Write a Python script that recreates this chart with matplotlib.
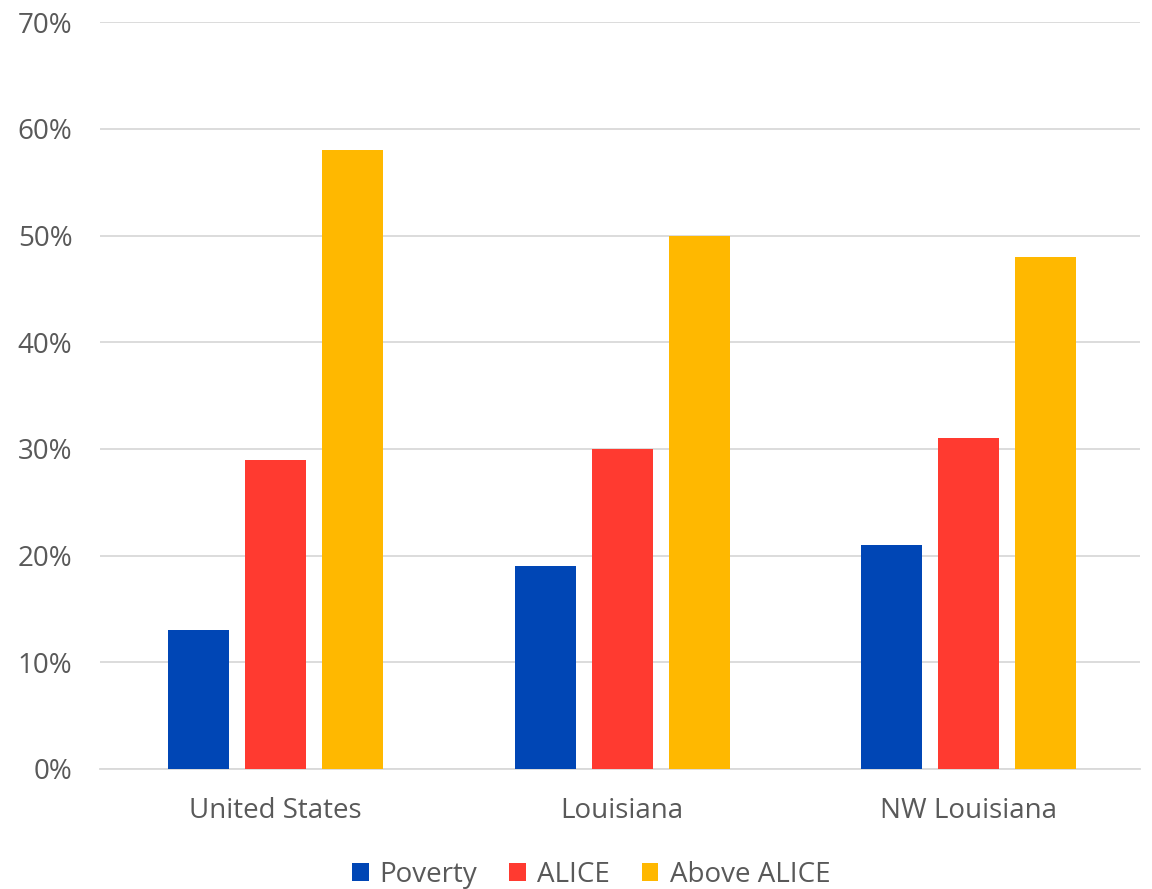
import matplotlib.pyplot as plt
import numpy as np

categories = ["United States", "Louisiana", "NW Louisiana"]
series_names = ["Poverty", "ALICE", "Above ALICE"]
poverty = [13, 19, 21]
alice = [29, 30, 31]
above_alice = [58, 50, 48]
colors = ["#0046B5", "#FF3A30", "#FFB800"]

plt.rcParams['font.family'] = ['Open Sans', 'DejaVu Sans']
text_color = "#595959"

fig = plt.figure(figsize=(11.52, 8.89), dpi=100)
ax = fig.add_axes([0.087, 0.135, 0.903, 0.84])

x = np.arange(len(categories))
width = 0.176
step = 0.222
for i, (vals, name, col) in enumerate(zip([poverty, alice, above_alice], series_names, colors)):
    ax.bar(x + (i - 1) * step, vals, width, color=col, label=name, zorder=3)

ax.set_xlim(-0.505, 2.495)
ax.set_ylim(0, 70)
ax.set_yticks(range(0, 71, 10))
ax.set_yticklabels([f"{v}%" for v in range(0, 71, 10)])
ax.set_xticks(x)
ax.set_xticklabels(categories)
ax.yaxis.grid(True, color="#D9D9D9", linewidth=1.3, zorder=0)
ax.tick_params(axis='both', length=0, labelsize=20, colors=text_color)
ax.tick_params(axis='y', pad=20)
ax.tick_params(axis='x', pad=20)
for s in ["top", "right", "left"]:
    ax.spines[s].set_visible(False)
ax.spines["bottom"].set_color("#D9D9D9")
ax.spines["bottom"].set_linewidth(1.3)

leg = fig.legend(loc="center", bbox_to_anchor=(0.513, 0.016), ncol=3, frameon=False,
                 fontsize=20, handlelength=0.6, handleheight=0.6, handletextpad=0.4,
                 columnspacing=1.15, labelcolor=text_color)

fig.savefig("out.png", dpi=100)
